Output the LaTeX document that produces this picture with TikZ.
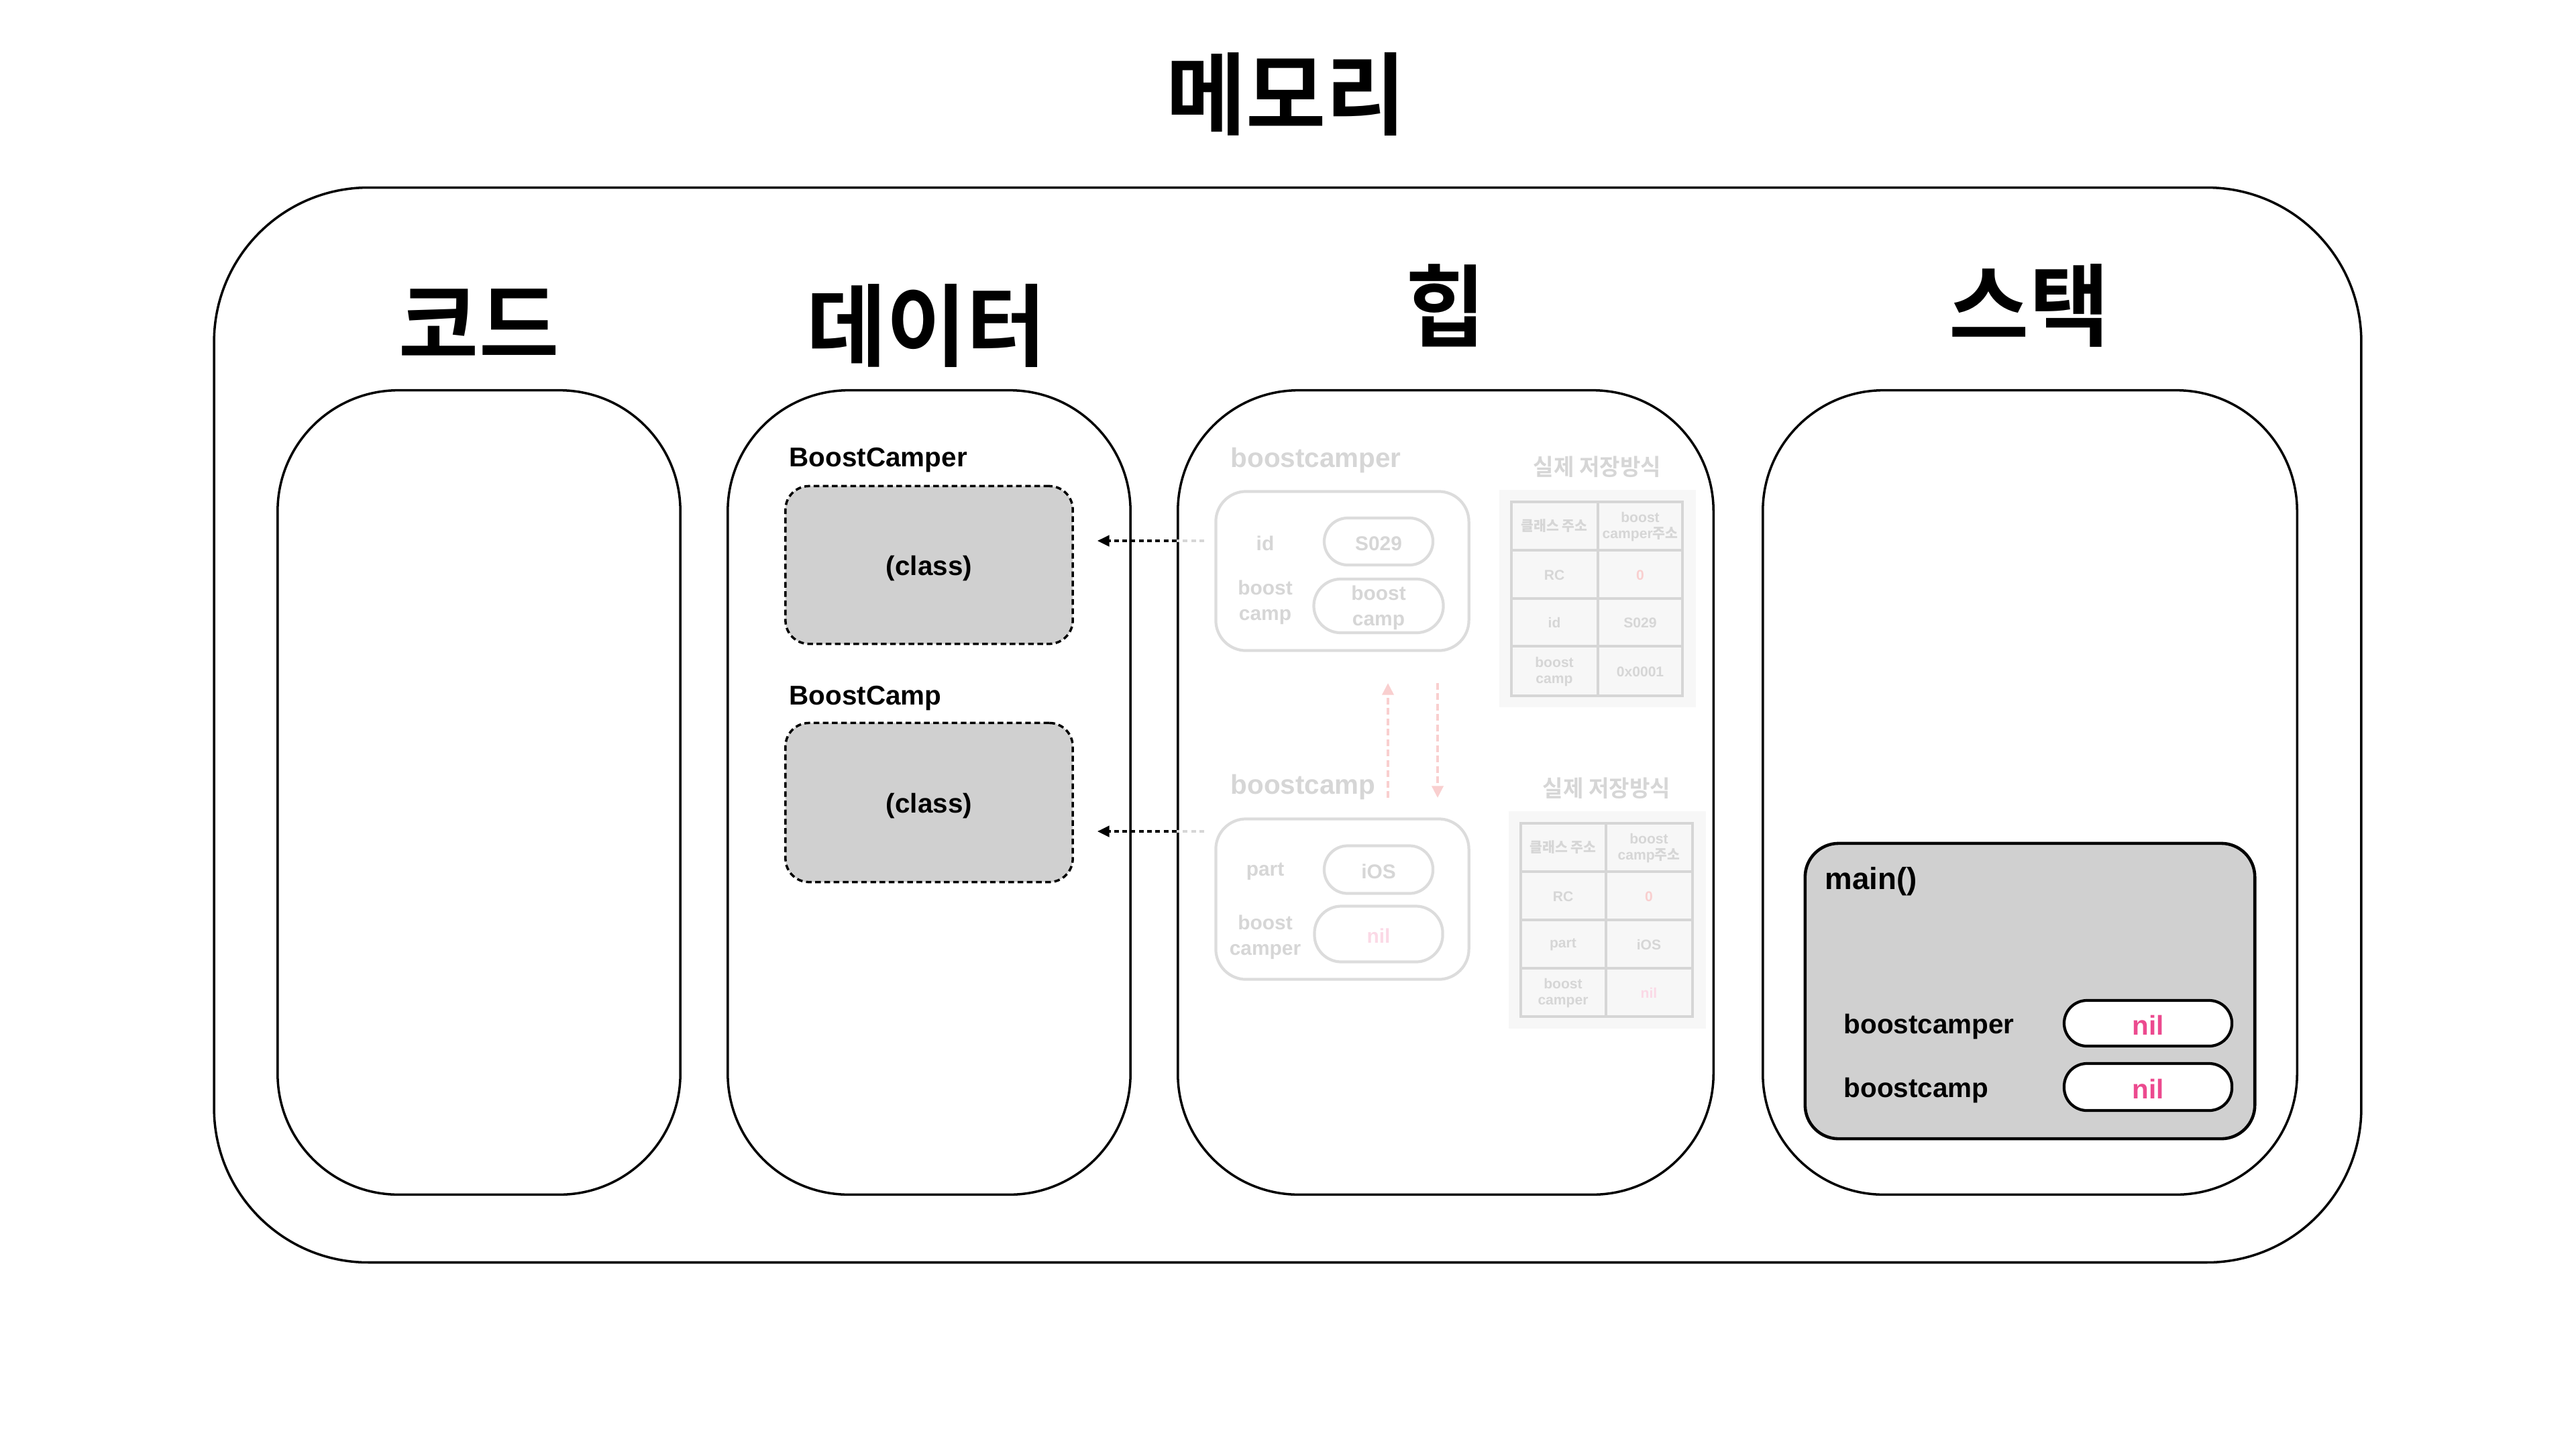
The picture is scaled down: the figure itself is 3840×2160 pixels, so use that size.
\documentclass[tikz,border=0pt]{standalone}
\usepackage{fontspec}
\setmainfont{Liberation Sans}
\newfontfamily\krfont{Noto Sans CJK KR Bold}[FakeStretch=0.97]
\usetikzlibrary{arrows.meta}
\definecolor{ghost}{HTML}{D6D6D6}
\definecolor{ghostline}{HTML}{DCDCDC}
\definecolor{tblbg}{HTML}{F7F7F7}
\definecolor{clsfill}{HTML}{D0D0D0}
\definecolor{ghostpink}{HTML}{F9CFCF}
\definecolor{ghostnil}{HTML}{FBD9E6}
\definecolor{nilpink}{HTML}{EC4A8F}
\tikzset{
  title/.style={inner sep=0pt, font=\krfont\fontsize{38pt}{44pt}\selectfont},
  outerbox/.style={draw=black, line width=1pt, rounded corners=2.3cm, inner sep=0pt},
  colbox/.style={draw=black, line width=1pt, rounded corners=1.8cm, inner sep=0pt},
  lbl/.style={inner sep=0pt, font=\bfseries\fontsize{11.5pt}{14pt}\selectfont},
  mainlbl/.style={inner sep=0pt, font=\bfseries\fontsize{13pt}{15pt}\selectfont},
  clsbox/.style={draw=black, fill=clsfill, line width=1pt, dash pattern=on 2.4pt off 1.5pt, rounded corners=0.35cm, inner sep=0pt},
  clstxt/.style={inner sep=0pt, font=\bfseries\fontsize{11.5pt}{14pt}\selectfont},
  refarrow/.style={draw=black, line width=1pt, dash pattern=on 2pt off 1.5pt, -{Triangle[length=5pt,width=4.6pt]}},
  ghostdash/.style={draw=ghost, line width=1pt, dash pattern=on 2pt off 1.5pt},
  hlbl/.style={inner sep=0pt, text=ghost, font=\bfseries\fontsize{11.5pt}{14pt}\selectfont},
  htxt/.style={inner sep=0pt, text=ghost, align=center, font=\bfseries\fontsize{8.5pt}{10.8pt}\selectfont},
  hobj/.style={draw=ghostline, line width=1.2pt, rounded corners=0.45cm, inner sep=0pt},
  hpill/.style={draw=ghostline, line width=1.2pt, rounded corners=0.35cm, inner sep=0pt, text=ghost, align=center, font=\bfseries\fontsize{8.5pt}{10.8pt}\selectfont},
  htitle/.style={inner sep=0pt, text=ghost, font=\krfont\fontsize{9.7pt}{12pt}\selectfont},
  tcell/.style={inner sep=0pt, text=ghost, align=center, font=\bfseries\fontsize{6pt}{7pt}\selectfont},
  tgrid/.style={draw=ghost, line width=1.1pt},
  pinkarrow/.style={draw=ghostpink, line width=1.1pt, dash pattern=on 2.8pt off 1.6pt, -{Triangle[length=5pt,width=4.8pt]}},
  mainbox/.style={draw=black, fill=clsfill, line width=1.3pt, rounded corners=0.5cm, inner sep=0pt},
  nilpill/.style={draw=black, fill=white, line width=1.2pt, rounded corners=0.34cm, inner sep=0pt},
  niltxt/.style={inner sep=0pt, text=nilpink, font=\bfseries\fontsize{11.5pt}{14pt}\selectfont},
}
\begin{document}
\begin{tikzpicture}[x=0.01cm,y=-0.01cm]
\useasboundingbox (0,0) rectangle (3840,2160);
\fill[white] (0,0) rectangle (3840,2160);

% title and outer frame
\node[title] (ttl) at (1917,140) {메모리};
\node[outerbox, minimum width=31.99cm, minimum height=16.01cm] (mem) at (1919.5,1080.5) {};

% columns
\node[colbox, minimum width=6cm, minimum height=11.98cm] (code) at (714,1181) {};
\node[colbox, minimum width=6cm, minimum height=11.98cm] (data) at (1385,1181) {};
\node[colbox, minimum width=7.98cm, minimum height=11.98cm] (heap) at (2155,1181) {};
\node[colbox, minimum width=7.96cm, minimum height=11.98cm] (stack) at (3026,1181) {};

\node[title] (tcode) at (714,482) {코드};
\node[title] (tdata) at (1381,485) {데이터};
\node[title] (theap) at (2155,455) {힙};
\node[title] (tstack) at (3025,455) {스택};

% data
\node[lbl, anchor=west] (lBC) at (1176,686) {BoostCamper};
\node[clsbox, minimum width=4.28cm, minimum height=2.35cm] (cls1) at (1385,842) {};
\node[clstxt] (cls1t) at (1385,847) {(class)};
\node[lbl, anchor=west] (lB) at (1176,1041) {BoostCamp};
\node[clsbox, minimum width=4.28cm, minimum height=2.37cm] (cls2) at (1385,1196) {};
\node[clstxt] (cls2t) at (1385,1201) {(class)};

% heap object 1
\node[hlbl, anchor=west] (hl1) at (1834,686) {boostcamper};
\node[hobj, minimum width=3.77cm, minimum height=2.37cm] (obj1) at (2001,851) {};
\node[htxt] (id1) at (1886,810) {id};
\node[hpill, minimum width=1.62cm, minimum height=0.7cm] (v11) at (2055,807) {};
\node[htxt] (v11t) at (2055,810) {S029};
\node[htxt] (bc1) at (1886,898) {boost\\camp};
\node[hpill, minimum width=1.93cm, minimum height=0.8cm, rounded corners=0.4cm] (v12) at (2055,903) {};
\node[htxt] (v12t) at (2055,906) {boost\\camp};

% table 1
\node[htitle] (tt1) at (2381,696) {실제 저장방식};
\fill[tblbg] (2235,730) rectangle (2528,1054);
\draw[tgrid] (2253,748) rectangle (2508,1037);
\draw[tgrid] (2382,748) -- (2382,1037);
\draw[tgrid] (2253,820) -- (2508,820) (2253,892) -- (2508,892) (2253,963) -- (2508,963);
\node[tcell] (c11) at (2317,784) {{\krfont 클래스 주소}};
\node[tcell] (c12) at (2445,785) {boost\\camper{\krfont 주소}};
\node[tcell] (c21) at (2317,857) {RC};
\node[tcell, text=ghostpink] (c22) at (2445,857) {0};
\node[tcell] (c31) at (2317,928) {id};
\node[tcell] (c32) at (2445,928) {S029};
\node[tcell] (c41) at (2317,1001) {boost\\camp};
\node[tcell] (c42) at (2445,1001) {0x0001};

% heap object 2
\node[hlbl, anchor=west] (hl2) at (1834,1173) {boostcamp};
\node[hobj, minimum width=3.77cm, minimum height=2.39cm] (obj2) at (2001,1340) {};
\node[htxt] (part2) at (1886,1299) {part};
\node[hpill, minimum width=1.62cm, minimum height=0.71cm] (v21) at (2055,1296) {};
\node[htxt] (v21t) at (2055,1299) {iOS};
\node[htxt] (bc2) at (1886,1397) {boost\\camper};
\node[hpill, minimum width=1.91cm, minimum height=0.83cm, rounded corners=0.4cm] (v22) at (2055,1392) {};
\node[htxt, text=ghostnil] (v22t) at (2055,1395) {nil};

% table 2
\node[htitle] (tt2) at (2395,1175) {실제 저장방식};
\fill[tblbg] (2249,1209) rectangle (2543,1533);
\draw[tgrid] (2267,1227) rectangle (2523,1515);
\draw[tgrid] (2394,1227) -- (2394,1515);
\draw[tgrid] (2267,1299) -- (2523,1299) (2267,1371) -- (2523,1371) (2267,1443) -- (2523,1443);
\node[tcell] (d11) at (2330,1263) {{\krfont 클래스 주소}};
\node[tcell] (d12) at (2458,1264) {boost\\camp{\krfont 주소}};
\node[tcell] (d21) at (2330,1336) {RC};
\node[tcell, text=ghostpink] (d22) at (2458,1336) {0};
\node[tcell] (d31) at (2330,1408) {part};
\node[tcell] (d32) at (2458,1408) {iOS};
\node[tcell] (d41) at (2330,1480) {boost\\camper};
\node[tcell, text=ghostnil] (d42) at (2458,1480) {nil};

% pink arrows between heap objects
\coordinate (pu1) at (2069,1189);
\coordinate (pu2) at (2069,1018);
\coordinate (pd1) at (2143,1018);
\coordinate (pd2) at (2143,1189);
\draw[pinkarrow] (pu1) -- (pu2);
\draw[pinkarrow] (pd1) -- (pd2);

% reference arrows heap -> data
\coordinate (a1) at (1795,806);
\coordinate (a2) at (1795,1239);
\draw[ghostdash] (a1) -- (heap.west |- a1);
\draw[ghostdash] (a2) -- (heap.west |- a2);
\draw[refarrow, shorten >=0.35cm] (heap.west |- a1) -- (cls1.east |- a1);
\draw[refarrow, shorten >=0.35cm] (heap.west |- a2) -- (cls2.east |- a2);

% stack
\node[mainbox, minimum width=6.7cm, minimum height=4.4cm] (mainf) at (3026,1477) {};
\node[mainlbl, anchor=west] (mainl) at (2720,1314) {main()};
\node[lbl, anchor=west] (sv1) at (2748,1530) {boostcamper};
\node[nilpill, minimum width=2.5cm, minimum height=0.68cm] (n1) at (3202,1525) {};
\node[niltxt] (n1t) at (3202,1528) {nil};
\node[lbl, anchor=west] (sv2) at (2748,1625) {boostcamp};
\node[nilpill, minimum width=2.5cm, minimum height=0.7cm] (n2) at (3202,1620) {};
\node[niltxt] (n2t) at (3202,1623) {nil};
\end{tikzpicture}
\end{document}
